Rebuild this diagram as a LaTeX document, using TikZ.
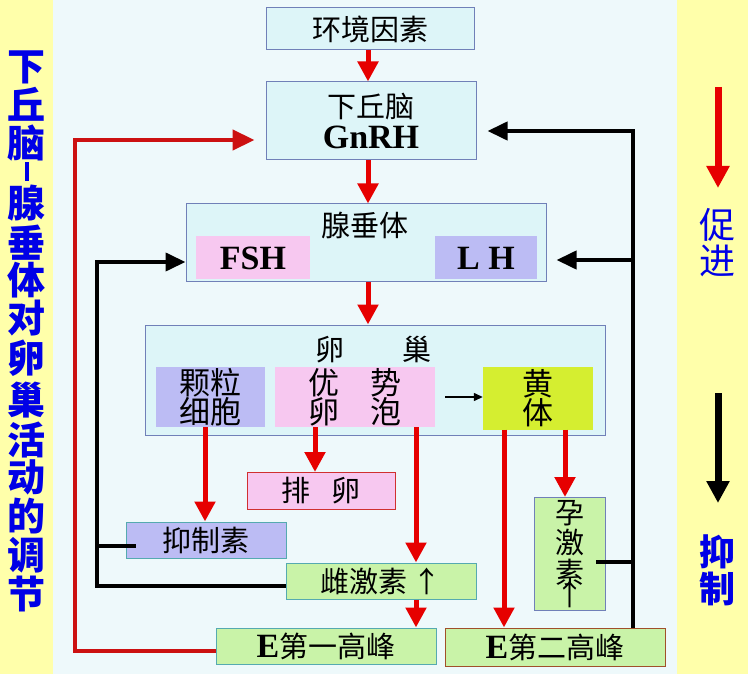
\documentclass[tikz,border=0pt]{standalone}
\usepackage{fontspec}
\setmainfont{Liberation Serif}
\newfontfamily\cjk{Noto Sans CJK SC}
\usetikzlibrary{arrows.meta,positioning,calc}

\definecolor{stripyellow}{HTML}{FFFFAA}
\definecolor{paneblue}{HTML}{EEF9FB}
\definecolor{boxcyan}{HTML}{DDF5F8}
\definecolor{boxline}{HTML}{7080B8}
\definecolor{pinkfill}{HTML}{F7C8F0}
\definecolor{lavfill}{HTML}{BCBCF4}
\definecolor{limefill}{HTML}{D5EE30}
\definecolor{greenfill}{HTML}{C9F3A8}
\definecolor{tealline}{HTML}{55AAB0}
\definecolor{brownline}{HTML}{A0502A}
\definecolor{ovulline}{HTML}{D03030}
\definecolor{arrowred}{HTML}{E60000}
\definecolor{fbred}{HTML}{CC1111}
\definecolor{textblue}{HTML}{0000E6}

\newcommand\boxfont{\cjk\fontsize{29}{30}\selectfont}
\newcommand\ovfont{\cjk\fontsize{31}{29}\selectfont}
\newcommand\hormfont{\rmfamily\fontsize{34}{36}\selectfont\bfseries}

\begin{document}
\begin{tikzpicture}[x=1pt, y=-1pt, every node/.style={inner sep=0pt},
  box/.style={draw=boxline, fill=boxcyan, line width=1pt, text centered},
  innerbox/.style={text centered, font=\ovfont, align=center},
  greenbox/.style={draw=tealline, fill=greenfill, line width=1pt, text centered, font=\boxfont},
  redarrow/.style={draw=arrowred, line width=5pt, -{Triangle[length=20pt,width=20pt]}},
  fbredline/.style={draw=fbred, line width=4.5pt, -{Triangle[length=22pt,width=20pt]}},
  fbblack/.style={draw=black, line width=4pt, -{Triangle[length=20pt,width=18pt]}},
  blackline/.style={draw=black, line width=4pt},
  sidelabel/.style={text=textblue, font=\cjk\bfseries\fontsize{38}{38}\selectfont},
  legendtext/.style={text=textblue, align=center, font=\cjk\fontsize{36}{36}\selectfont}]

\useasboundingbox (0,0) rectangle (748,674);
\fill [paneblue] (0,0) rectangle (748,674);
\fill [stripyellow] (0,0) rectangle (53,674);
\fill [stripyellow] (677,0) rectangle (748,674);

%side title
\foreach \ch/\yy in {下/67, 丘/104, 脑/143, 腺/203, 垂/243, 体/280, 对/318,
                     卵/358, 巢/400, 活/440, 动/477, 的/516, 调/555, 节/594}
  \node [sidelabel](side\yy) at (27,\yy){\ch};
\node [fill=textblue, minimum width=4, minimum height=19](sidedash) at (27,172){};

%nodes
\node [box, minimum width=208, minimum height=42, font=\boxfont](env) at (370,29){环境因素};

\node [box, minimum width=210, minimum height=78, align=center](hypo) at (371,121)
  {{\boxfont 下丘脑}\\[5pt]{\hormfont GnRH}};

\node [box, minimum width=360, minimum height=78](pit) at (366,243){};
\node [font=\boxfont](pittitle) at (365,225){腺垂体};
\node [fill=pinkfill, minimum width=114, minimum height=43, font=\hormfont](fsh) at (253,258){FSH};
\node [fill=lavfill, minimum width=102, minimum height=43, font=\hormfont](lh) at (486,258){L H};

\node [box, minimum width=460, minimum height=110](ovary) at (375,380){};
\node [font=\boxfont](ovtitle) at (373,350){卵　　巢};
\node [innerbox, fill=lavfill, minimum width=109, minimum height=60](gran) at (210,397){颗粒\\细胞};
\node [innerbox, fill=pinkfill, minimum width=160, minimum height=60](foll) at (355,397){优　势\\卵　泡};
\node [innerbox, fill=limefill, minimum width=110, minimum height=63](cl) at (538,398){黄\\体};

\node [draw=ovulline, fill=pinkfill, line width=1pt, minimum width=148, minimum height=37, font=\boxfont](ovul) at (321,491){排\hspace{22pt}卵};
\node [draw=tealline, fill=lavfill, line width=1pt, minimum width=160, minimum height=36, font=\boxfont](inh) at (206,540){抑制素};
\node [greenbox, minimum width=190, minimum height=36](est) at (381,581){雌激素\hspace{6pt}↑};
\node [greenbox, draw=boxline, minimum width=71, minimum height=113, align=center](prog) at (570,554)
  {孕\\激\\素\\[-8pt]↑};
\node [greenbox, minimum width=220, minimum height=36](e1) at (326,646){{\hormfont E}第一高峰};
\node [greenbox, draw=brownline, minimum width=220, minimum height=38](e2) at (555,647){{\hormfont E}第二高峰};

%arrows
\coordinate (spine) at (368,0);
\draw [redarrow] (spine |- env.south) -- (spine |- hypo.north);
\draw [redarrow] (spine |- hypo.south) -- (spine |- pit.north);
\draw [redarrow] (spine |- pit.south) -- (spine |- ovary.north);

\draw [redarrow] ([xshift=-5pt]gran.south) -- ([xshift=-5pt]gran.south |- inh.north);
\draw [redarrow] ([xshift=-40pt]foll.south) -- ([xshift=-40pt]foll.south |- ovul.north);
\draw [redarrow] ([xshift=61pt]foll.south) -- ([xshift=61pt]foll.south |- est.north);
\draw [redarrow] ([xshift=35pt]est.south) -- ([xshift=35pt]est.south |- e1.north);
\draw [redarrow] ([xshift=-34pt]cl.south) -- ([xshift=-34pt]cl.south |- e2.north);
\draw [redarrow] ([xshift=27pt]cl.south) -- ([xshift=27pt]cl.south |- prog.north);

\draw [-{Triangle[length=9pt,width=8pt]}, line width=1.3pt] ([xshift=10pt]foll.east) -- (foll.east -| cl.west);

%feedback
\coordinate (hypin) at ([shift={(-11,19)}]hypo.west);
\coordinate (redcol) at (75,0);
\draw [fbredline] ([yshift=-5pt]e1.west) -| (redcol |- hypin) -- (hypin);

\coordinate (pitin) at ([shift={(0,19)}]pit.west);
\coordinate (blkcol) at (97,0);
\coordinate (inhout) at ([yshift=-6pt]inh.west);
\draw [fbblack] ([yshift=-5pt]est.west) -| (blkcol |- pitin) -- (pitin);
\draw [blackline] ([xshift=10pt]inhout) -- (inhout -| blkcol);

\coordinate (hypRin) at ([shift={(11,10)}]hypo.east);
\coordinate (pitRin) at ([shift={(10,17)}]pit.east);
\coordinate (blkrcol) at (633,0);
\coordinate (progout) at ([yshift=-8pt]prog.east);
\draw [fbblack] (blkrcol |- e2.north) -- (blkrcol |- hypRin) -- (hypRin);
\draw [fbblack] (blkrcol |- pitRin) -- (pitRin);
\draw [blackline] ([xshift=-10pt]progout) -- (progout -| blkrcol);

%legend
\coordinate (promtop) at (718,87);
\coordinate (prombot) at (718,188);
\draw [draw=arrowred, line width=7pt, -{Triangle[length=22pt,width=22pt]}] (promtop) -- (prombot);
\node [legendtext](promote) at (717,243){促\\进};

\coordinate (inhtop) at (718,393);
\coordinate (inhbot) at (718,503);
\draw [draw=black, line width=7pt, -{Triangle[length=22pt,width=22pt]}] (inhtop) -- (inhbot);
\node [legendtext, font=\cjk\bfseries\fontsize{36}{37}\selectfont](inhibit) at (717,570){抑\\制};

\end{tikzpicture}
\end{document}
